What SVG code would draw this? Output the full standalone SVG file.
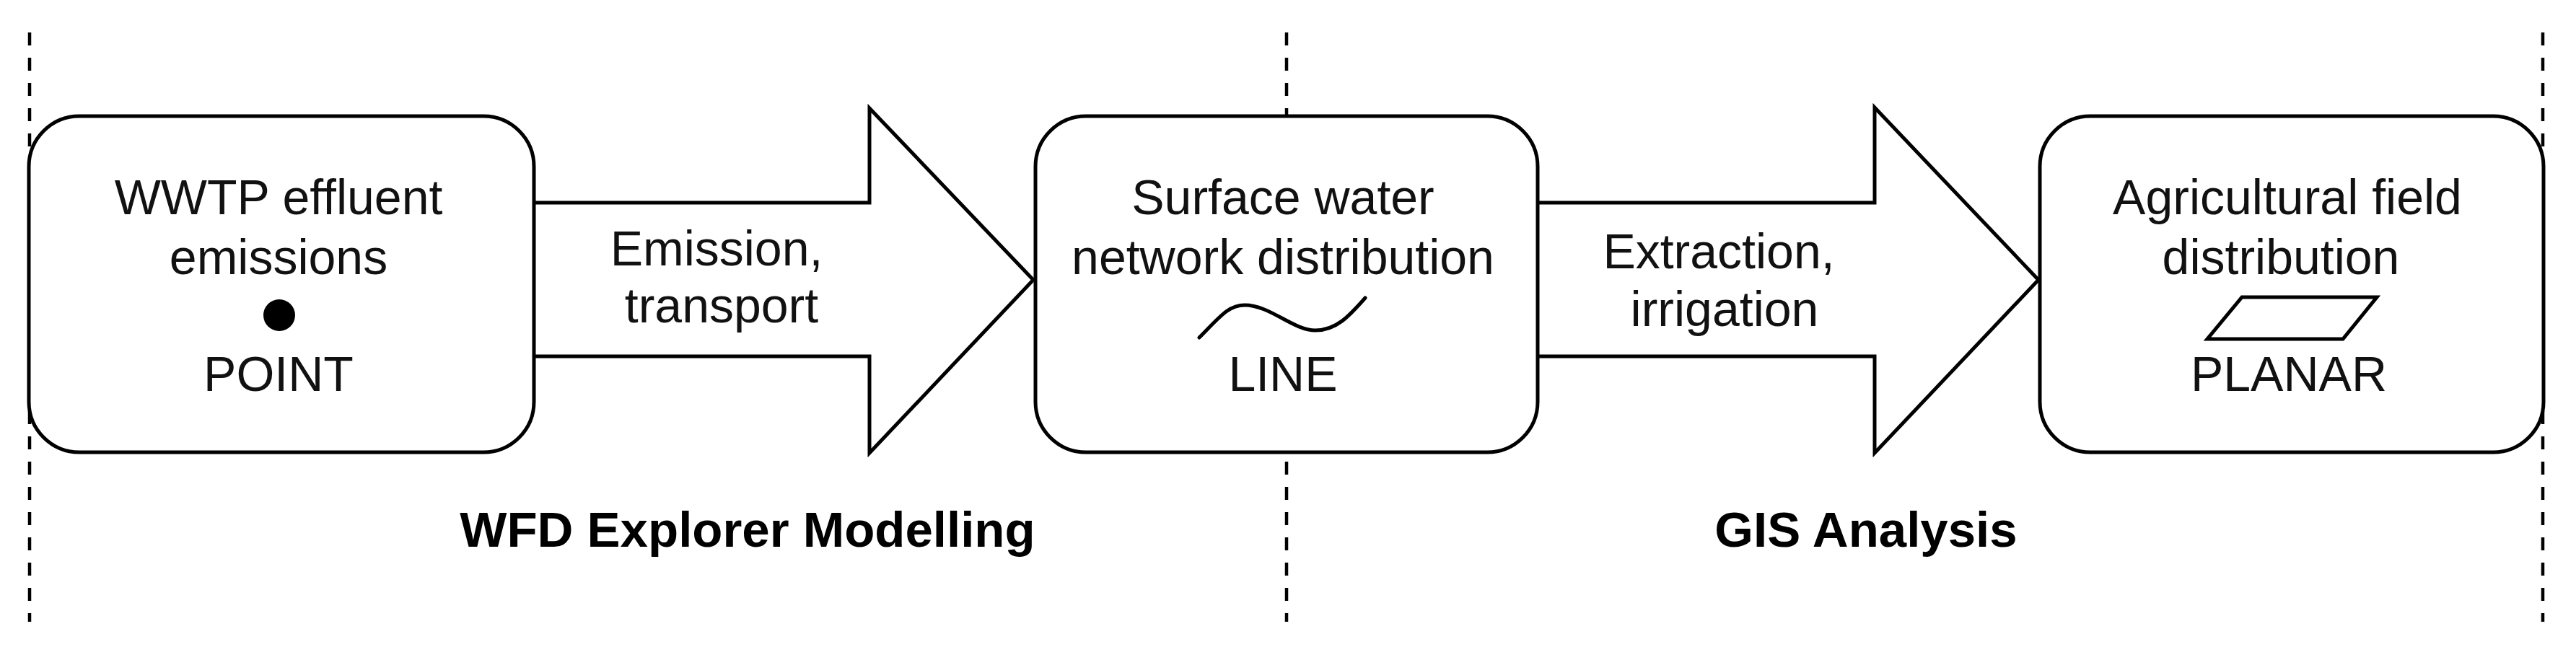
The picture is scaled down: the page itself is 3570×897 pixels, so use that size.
<svg xmlns="http://www.w3.org/2000/svg" width="3570" height="897" viewBox="0 0 3570 897">
<style>
.bg{fill:#ffffff}
.sep{stroke:#000;stroke-width:4.5;stroke-dasharray:18 17;fill:none}
.box{fill:#fff;stroke:#000;stroke-width:5}
.arr{fill:#fff;stroke:#000;stroke-width:5;stroke-linejoin:miter}
.sym{fill:none;stroke:#000;stroke-width:5;stroke-linecap:round}
.t{font-family:"Liberation Sans",Arial,Helvetica,sans-serif;font-size:68px;fill:#111;text-anchor:middle}
.b{font-family:"Liberation Sans",Arial,Helvetica,sans-serif;font-size:69px;font-weight:bold;fill:#000;text-anchor:middle}
</style>
<rect class="bg" x="0" y="0" width="3570" height="897"/>
<g id="separators">
<line class="sep" x1="41" y1="45" x2="41" y2="862"/>
<line class="sep" x1="1783" y1="45" x2="1783" y2="862"/>
<line class="sep" x1="3524" y1="45" x2="3524" y2="862"/>
</g>
<g id="connectors">
<g id="arrow-emission">
<path class="arr" d="M740,281 L1205,281 L1205,150 L1432,388 L1205,628 L1205,494 L740,494"/>
<text class="t" x="993" y="368">Emission,</text>
<text class="t" x="1000" y="447">transport</text>
</g>
<g id="arrow-extraction">
<path class="arr" d="M2131,281 L2598,281 L2598,149 L2825,388 L2598,628 L2598,494 L2131,494"/>
<text class="t" x="2382" y="372">Extraction,</text>
<text class="t" x="2390" y="452">irrigation</text>
</g>
</g>
<g id="node-wwtp">
<rect class="box" x="40" y="161" width="700" height="466" rx="70" ry="70"/>
<text class="t" x="386" y="297">WWTP effluent</text>
<text class="t" x="386" y="380">emissions</text>
<circle cx="387" cy="437" r="22" fill="#000"/>
<text class="t" x="386" y="542">POINT</text>
</g>
<g id="node-surface">
<rect class="box" x="1435" y="161" width="696" height="466" rx="70" ry="70"/>
<text class="t" x="1778" y="297">Surface water</text>
<text class="t" x="1778" y="380">network distribution</text>
<path class="sym" d="M1662,468 C1690,440 1702,423 1725,423 C1760,423 1792,458 1823,458 C1852,458 1870,438 1892,413"/>
<text class="t" x="1778" y="542">LINE</text>
</g>
<g id="node-agri">
<rect class="box" x="2827" y="161" width="698" height="466" rx="70" ry="70"/>
<text class="t" x="3170" y="297">Agricultural field</text>
<text class="t" x="3161" y="380">distribution</text>
<polygon points="3107,412 3294,412 3247,470 3059,470" fill="none" stroke="#000" stroke-width="5"/>
<text class="t" x="3172" y="542">PLANAR</text>
</g>
<g id="labels">
<text class="b" x="1036" y="758">WFD Explorer Modelling</text>
<text class="b" x="2586" y="758">GIS Analysis</text>
</g>
</svg>
